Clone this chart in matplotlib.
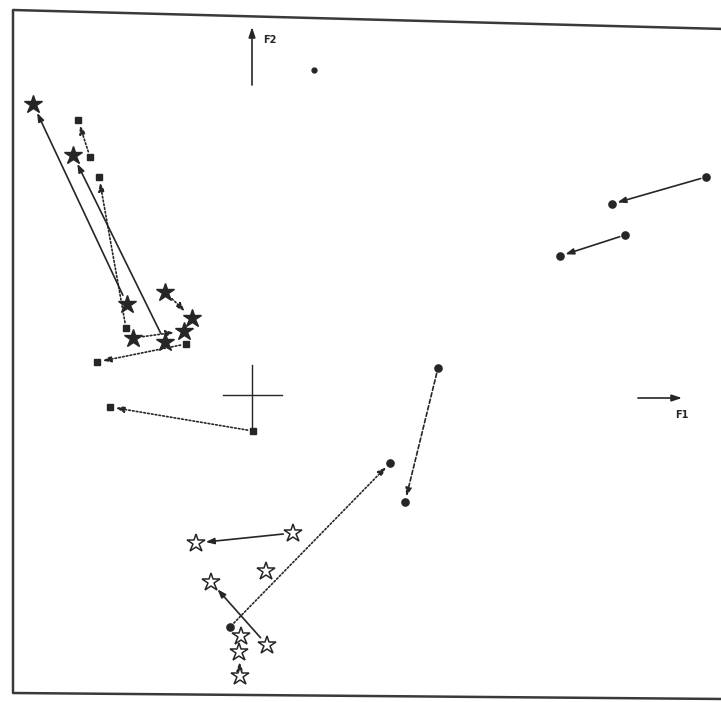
import matplotlib
matplotlib.use("Agg")
import matplotlib.pyplot as plt
from matplotlib.lines import Line2D

# factor coordinates (F1, F2) of each category
star_f1 = [-2.19, -1.79, -1.25, -0.87, -0.60, -0.68, -1.19, -0.87]
star_f2 = [2.91, 2.40, 0.91, 1.03, 0.77, 0.64, 0.57, 0.53]

square_f1 = [-1.74, -1.62, -1.53, -1.26, -0.66, -1.55, -1.42, 0.01]
square_f2 = [2.75, 2.38, 2.18, 0.67, 0.51, 0.33, -0.12, -0.36]

single_f1 = [0.62]
single_f2 = [3.25]

circle_f1 = [4.54, 3.60, 3.73, 3.08, 1.86, 1.53, 1.38, -0.22]
circle_f2 = [2.18, 1.91, 1.60, 1.39, 0.27, -1.07, -0.68, -2.32]

open_f1 = [0.41, -0.56, 0.14, -0.41, 0.15, -0.11, -0.13, -0.12]
open_f2 = [-1.38, -1.48, -1.76, -1.87, -2.50, -2.41, -2.57, -2.81]

# trajectories: (from index, to index, line style)
star_moves = [(2, 0, "solid"), (7, 1, "solid"), (3, 4, "dotted"), (6, 5, "dotted")]
square_moves = [(1, 0, "dotted"), (3, 2, "dotted"), (4, 5, "dotted"), (7, 6, "dotted")]
circle_moves = [(0, 1, "solid"), (2, 3, "solid"), (4, 5, "dashed"), (7, 6, "dotted")]
open_moves = [(0, 1, "solid"), (4, 3, "solid"), (7, 6, "dotted")]

INK = "#262626"
STYLES = {"solid": "-", "dotted": (0, (1.0, 1.3)), "dashed": (0, (2.5, 1.5))}

fig = plt.figure(figsize=(7.21, 7.02), dpi=100)
ax = fig.add_axes([0, 0, 1, 1])
ax.set_xlim(-2.52, 4.69)
ax.set_ylim(-3.07, 3.95)
ax.axis("off")


def draw_moves(xs, ys, moves, shrink):
    for a, b, st in moves:
        ax.annotate("", xy=(xs[b], ys[b]), xytext=(xs[a], ys[a]),
                    arrowprops=dict(arrowstyle="-|>,head_length=0.5,head_width=0.18",
                                    color=INK, lw=1.2, linestyle=STYLES[st],
                                    shrinkA=shrink, shrinkB=shrink),
                    zorder=2)


draw_moves(star_f1, star_f2, star_moves, 7)
draw_moves(square_f1, square_f2, square_moves, 4)
draw_moves(circle_f1, circle_f2, circle_moves, 4)
draw_moves(open_f1, open_f2, open_moves, 7)

ax.plot(star_f1, star_f2, ls="none", marker="*", ms=13.5, color=INK, zorder=3)
ax.plot(square_f1, square_f2, ls="none", marker="s", ms=4.2, color=INK, zorder=3)
ax.plot(single_f1, single_f2, ls="none", marker="o", ms=3.5, color=INK, zorder=3)
ax.plot(circle_f1, circle_f2, ls="none", marker="o", ms=5.2, color=INK, zorder=3)
ax.plot(open_f1, open_f2, ls="none", marker="*", ms=13.5, mfc="white",
        mec=INK, mew=1.1, zorder=3)

# origin cross
ax.plot([-0.29, 0.30], [0, 0], color=INK, lw=1.0)
ax.plot([0, 0], [-0.32, 0.30], color=INK, lw=1.0)

# axis direction arrows
ax.annotate("", xy=(0, 3.68), xytext=(0, 3.10),
            arrowprops=dict(arrowstyle="-|>,head_length=0.6,head_width=0.2",
                            color=INK, lw=1.2, shrinkA=0, shrinkB=0))
ax.text(0.11, 3.55, "F2", fontsize=7, fontweight="bold", color=INK,
        ha="left", va="center")
ax.annotate("", xy=(4.30, -0.03), xytext=(3.86, -0.03),
            arrowprops=dict(arrowstyle="-|>,head_length=0.6,head_width=0.2",
                            color=INK, lw=1.2, shrinkA=0, shrinkB=0))
ax.text(4.30, -0.20, "F1", fontsize=7, fontweight="bold", color=INK,
        ha="center", va="center")

# slightly skewed printed frame, right side runs off the page
W, H = 721, 702
corners = [(724, 29), (13, 10), (13, 693), (724, 699)]
fig.add_artist(Line2D([c[0] / W for c in corners], [1 - c[1] / H for c in corners],
                      transform=fig.transFigure, color="#3a3a3a", lw=1.8))

fig.savefig("out.png", dpi=100, facecolor="white")
